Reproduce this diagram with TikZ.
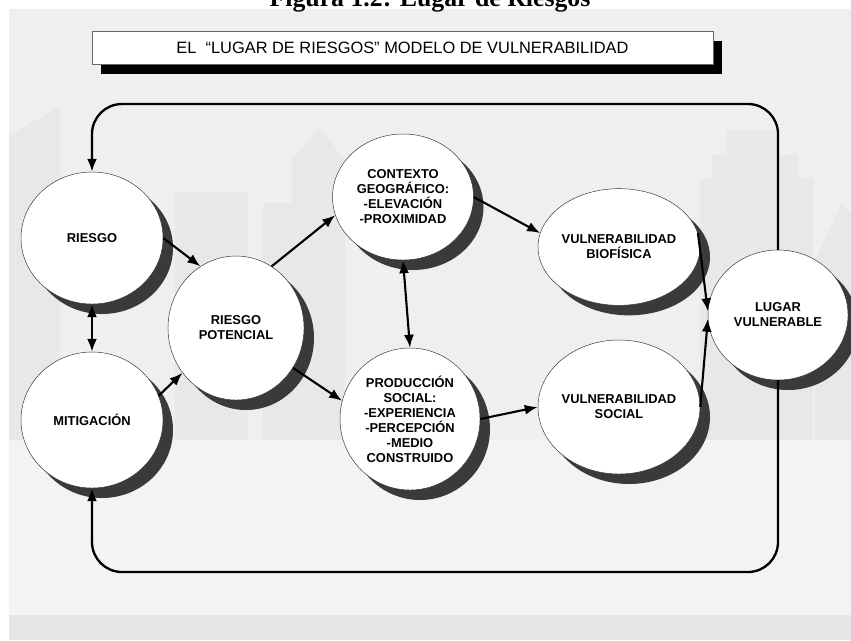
\documentclass[tikz,border=0pt]{standalone}
\usepackage{fontspec}
\setmainfont{Liberation Sans}
\newfontfamily\titlefont{Liberation Serif}
\usetikzlibrary{shapes.geometric,shadows,arrows.meta}
\definecolor{panel}{HTML}{EFEFEF}
\definecolor{lowpanel}{HTML}{F3F3F3}
\definecolor{band}{HTML}{E6E6E6}
\definecolor{ghost}{HTML}{E8E8E8}
\definecolor{shade}{HTML}{3A3A3A}

\begin{document}
\begin{tikzpicture}[x=0.03cm,y=-0.03cm,
	zone/.style={ellipse,draw=black!80,thin,fill=white,inner sep=0pt,align=center,
		font=\bfseries\fontsize{11}{12.8}\selectfont,
		drop shadow={shadow xshift=0.3cm,shadow yshift=-0.3cm,fill=shade,opacity=1}},
	link/.style={line width=1.8pt,-{Latex[length=3.9mm,width=3mm]}},
	twoway/.style={line width=1.8pt,{Latex[length=3.9mm,width=3mm]}-{Latex[length=3.9mm,width=3mm]}},
	loopline/.style={link,line width=2pt,rounded corners=0.9cm}]
	\useasboundingbox (0,0) rectangle (851,640);
	% Backdrop
	\fill[panel] (9,9) rectangle (851,640);
	\fill[ghost] (9,135) -- (60,107) -- (60,440) -- (9,440) -- cycle;
	\fill[ghost] (175,192) rectangle (248,440);
	\fill[ghost] (263,203) -- (292,203) -- (292,160) -- (320,128) -- (345,160) -- (345,440) -- (263,440) -- cycle;
	\fill[ghost] (700,178) -- (712,178) -- (712,155) -- (727,155) -- (727,130) -- (777,130) -- (777,155)
		-- (798,155) -- (798,178) -- (813,178) -- (813,440) -- (700,440) -- cycle;
	\fill[ghost] (815,260) -- (842,203) -- (851,215) -- (851,440) -- (815,440) -- cycle;
	\fill[lowpanel] (9,440) rectangle (851,615);
	\fill[band] (9,615) rectangle (851,640);
	% Title, cut by the page edge
	\node[font=\titlefont\bfseries\fontsize{22}{22}\selectfont,anchor=base] (title) at (430,6) {Figura 1.2: Lugar de Riesgos};
	% Header
	\node[draw=black!60,fill=white,minimum width=18.63cm,minimum height=0.99cm,
		font=\fontsize{14}{16}\selectfont,
		drop shadow={shadow xshift=0.26cm,shadow yshift=-0.3cm,fill=black,opacity=1}]
		(header) at (402.5,47.5) {EL~~“LUGAR DE RIESGOS” MODELO DE VULNERABILIDAD};
	% Circles
	\node[zone,minimum width=4.26cm,minimum height=3.96cm] (riesgo) at (92,238) {RIESGO};
	\node[zone,minimum width=4.26cm,minimum height=4.08cm] (mitig) at (92,420) {MITIGACIÓN};
	\node[zone,minimum width=4.08cm,minimum height=4.32cm] (rpot) at (236,328) {RIESGO\\POTENCIAL};
	\node[zone,minimum width=4.23cm,minimum height=3.78cm] (contexto) at (403,197) {CONTEXTO\\GEOGRÁFICO:\\-ELEVACIÓN\\-PROXIMIDAD};
	\node[zone,minimum width=4.2cm,minimum height=4.26cm] (prod) at (410,419) {PRODUCCIÓN\\SOCIAL:\\-EXPERIENCIA\\-PERCEPCIÓN\\-MEDIO\\CONSTRUIDO};
	\node[zone,minimum width=4.26cm,minimum height=3.5cm] (bio) at (619,247) {VULNERABILIDAD\\BIOFÍSICA};
	\node[zone,minimum width=4.26cm,minimum height=4.02cm] (social) at (619,407) {VULNERABILIDAD\\SOCIAL};
	\node[zone,minimum width=4.2cm,minimum height=3.9cm] (lugar) at (778,315) {LUGAR\\VULNERABLE};
	% Links
	\draw[link] (riesgo.east) -- (rpot.120);
	\draw[twoway] (riesgo.south) -- (mitig.north);
	\draw[link] (mitig.20) -- (rpot.220);
	\draw[link] (rpot.60) -- (contexto.195);
	\draw[link] (rpot.-35) -- (prod.165);
	\draw[twoway] (contexto.south) -- (prod.north);
	\draw[link] (contexto.east) -- (bio.170);
	\draw[link] (prod.east) -- (social.west);
	\draw[link] (bio.10) -- (lugar.177);
	\draw[link] (social.east) -- (lugar.183);
	% Feedback loop
	\coordinate (toprail) at (0,104);
	\coordinate (botrail) at (0,572);
	\draw[loopline] (lugar.north) |- (riesgo.north |- toprail) -- (riesgo.north);
	\draw[loopline] (lugar.south) |- (mitig.south |- botrail) -- (mitig.south);
\end{tikzpicture}
\end{document}
